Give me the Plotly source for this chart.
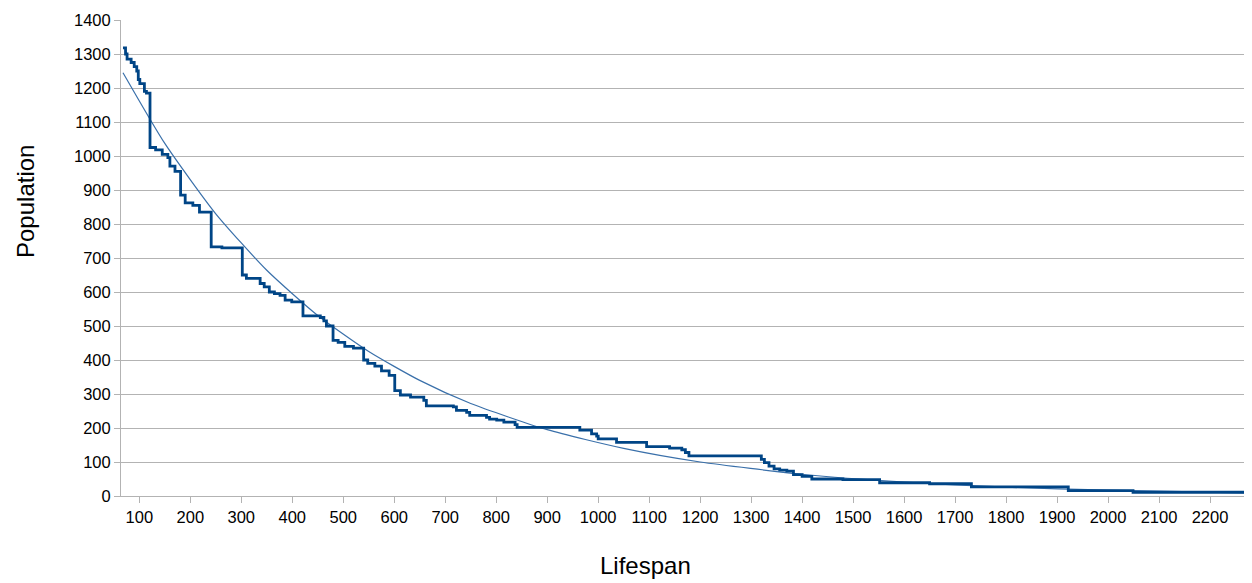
import plotly.graph_objects as go

# Observed step curve: lifespan at which each population level begins
lifespan = [68, 73, 76, 84, 90, 95, 98, 101, 110, 114, 121, 132, 145, 156, 160, 170,
            181, 190, 205, 218, 241, 262, 302, 310, 337, 345, 355, 365, 376, 386, 399,
            421, 455, 462, 467, 480, 490, 503, 520, 540, 548, 562, 575, 590, 601, 612,
            632, 658, 663, 716, 722, 742, 748, 781, 787, 801, 815, 837, 841, 964, 987,
            997, 1000, 1036, 1095, 1140, 1164, 1171, 1178, 1320, 1326, 1335, 1345, 1356,
            1370, 1383, 1400, 1419, 1480, 1552, 1650, 1732, 1922, 2049, 2278]
population = [1318, 1300, 1285, 1275, 1263, 1250, 1225, 1213, 1190, 1185, 1025, 1018, 1005, 995, 970, 955,
              885, 862, 855, 835, 733, 730, 650, 640, 625, 615, 600, 595, 590, 576, 571,
              530, 525, 515, 500, 458, 452, 440, 435, 400, 390, 382, 368, 355, 310, 297,
              291, 281, 265, 262, 252, 246, 237, 231, 226, 223, 217, 210, 202, 194, 183,
              176, 168, 158, 145, 141, 136, 128, 118, 108, 98, 88, 80, 76,
              73, 63, 58, 50, 48, 39, 36, 27, 16, 11, 2]

# Exponential trend line
trend_x = [68, 150, 250, 350, 450, 550, 650, 750, 900, 1050, 1200, 1400, 1600, 1800, 2000, 2278]
trend_y = [1245, 1037, 830, 664, 531, 425, 340, 272, 195, 140, 100, 64, 41, 26, 17, 9]

x_title = "Lifespan"
y_title = "Population"

FONT = "Liberation Sans, Arial, sans-serif"
GRID = "#b3b3b3"

fig = go.Figure()
fig.add_trace(go.Scatter(x=trend_x, y=trend_y, mode="lines",
                         line=dict(color="#3a70aa", width=1.2, shape="spline", smoothing=0.6),
                         hoverinfo="skip", showlegend=False))
fig.add_trace(go.Scatter(x=lifespan, y=population, mode="lines",
                         line=dict(color="#004586", width=2.8, shape="hv"),
                         showlegend=False))

# page has an 8px body margin; compensate so the plot lands where the reference has it
OFF = 8
W, H = 1252 - OFF, 583 - OFF
L, R, T, B = 121 - OFF, 2, 20 - OFF, 87
pw, ph = W - L - R, H - T - B

def px_x(px):
    return (px - OFF - L) / pw

def px_y(py):
    return (H - B - (py - OFF)) / ph

fig.update_layout(
    width=W, height=H,
    margin=dict(l=L, r=R, t=T, b=B),
    paper_bgcolor="white", plot_bgcolor="white",
    font=dict(family=FONT, size=16.5, color="black"),
    xaxis=dict(range=[64.1, 2278.4], tick0=0, dtick=100, showgrid=False,
               showline=True, linecolor=GRID, linewidth=1,
               ticks="outside", ticklen=6, tickcolor=GRID, tickwidth=1,
               tickfont=dict(family=FONT, size=16.5, color="black"), zeroline=False),
    yaxis=dict(range=[0, 1400], tick0=0, dtick=100, showgrid=True, gridcolor=GRID, gridwidth=1,
               showline=True, linecolor=GRID, linewidth=1,
               ticks="outside", ticklen=6, tickcolor=GRID, tickwidth=1,
               tickfont=dict(family=FONT, size=16.5, color="black"), zeroline=False),
    annotations=[
        dict(text=x_title, xref="paper", yref="paper",
             x=px_x(645), y=px_y(565), showarrow=False,
             font=dict(family=FONT, size=24, color="black"), xanchor="center", yanchor="middle"),
        dict(text=y_title, xref="paper", yref="paper", textangle=-90,
             x=px_x(25), y=px_y(202), showarrow=False,
             font=dict(family=FONT, size=24, color="black"), xanchor="center", yanchor="middle"),
    ],
)

fig.write_html("out.html")
